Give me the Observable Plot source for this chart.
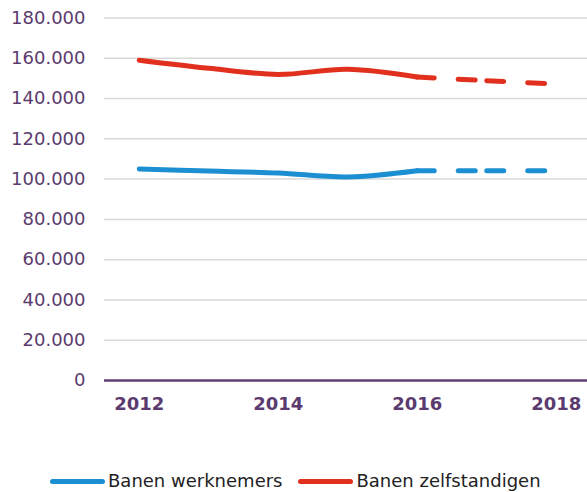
<!DOCTYPE html>
<html><head><meta charset="utf-8">
<script src="https://cdn.jsdelivr.net/npm/d3@7"></script>
<script src="https://cdn.jsdelivr.net/npm/@observablehq/plot@0.6"></script>
<style>
body{margin:0;background:#fff;font-family:"DejaVu Sans",Verdana,sans-serif;}
#chart{position:relative;width:587px;height:492px;overflow:hidden}
.legend{position:absolute;left:50px;top:471px;display:flex;align-items:center;font-size:18px;line-height:20px;color:#222;white-space:nowrap}
.item{display:flex;align-items:center;margin-right:16px}
.sw{display:inline-block;width:55px;height:5px;border-radius:3px;margin-right:3px}
</style></head><body><div id="chart"></div>
<script>
const years = [2012, 2013, 2014, 2015, 2016, 2017, 2018];
const werknemers = [105000, 104000, 103000, 101100, 104200, 104200, 104200];
const zelfstandigen = [159000, 155000, 152000, 154500, 150700, 148900, 147200];
const forecastFrom = 2016;
const seriesNames = ["Banen werknemers", "Banen zelfstandigen"];
const seriesColors = ["#1b8fd2", "#e2301f"];
const yTicks = [0, 20000, 40000, 60000, 80000, 100000, 120000, 140000, 160000, 180000];
const xTicks = [2012, 2014, 2016, 2018];

const seriesValues = [werknemers, zelfstandigen];
const rows = [];
seriesNames.forEach((name, si) => years.forEach((yr, i) => rows.push({series: name, year: yr, value: seriesValues[si][i]})));
const solid = rows.filter(d => d.year <= forecastFrom);
const links = [];
seriesNames.forEach((name, si) => {
  for (let i = 0; i < years.length - 1; i++) {
    if (years[i] >= forecastFrom) links.push({series: name, x1: years[i], y1: seriesValues[si][i], x2: years[i+1], y2: seriesValues[si][i+1]});
  }
});

const fmt = d3.formatLocale({decimal: ",", thousands: ".", grouping: [3], currency: ["€", ""]}).format(",d");
const purple = "#5b3b6f";

const chart = Plot.plot({
  width: 587, height: 440,
  marginLeft: 104, marginRight: 0, marginTop: 17.5, marginBottom: 60,
  style: {fontFamily: "DejaVu Sans, Verdana, sans-serif", fontSize: "18px", background: "white", overflow: "visible"},
  x: {domain: [2011.5, 2018.45]},
  y: {domain: [0, 180000]},
  color: {domain: seriesNames, range: seriesColors},
  marks: [
    Plot.gridY(yTicks.filter(d => d > 0), {stroke: "#d9d9d9", strokeOpacity: 1, strokeWidth: 1.5}),
    Plot.axisY(yTicks, {tickSize: 0, tickPadding: 19, tickFormat: fmt, fill: purple, label: null}),
    Plot.axisX(xTicks, {tickSize: 0, tickPadding: 17, tickFormat: d => String(d), fill: purple, fontWeight: "bold", label: null}),
    Plot.line(solid, {x: "year", y: "value", z: "series", stroke: "series", strokeWidth: 5, curve: "catmull-rom", strokeLinecap: "round", strokeLinejoin: "round"}),
    Plot.link(links, {x1: "x1", y1: "y1", x2: "x2", y2: "y2", stroke: "series", strokeWidth: 5, strokeDasharray: "17,24", strokeLinecap: "round"}),
    Plot.ruleY([0], {stroke: "#5f3f74", strokeWidth: 2.5})
  ]
});
const root = document.getElementById("chart");
root.appendChild(chart);
const legend = document.createElement("div");
legend.className = "legend";
seriesNames.forEach((name, i) => {
  const item = document.createElement("span");
  item.className = "item";
  const sw = document.createElement("span");
  sw.className = "sw";
  sw.style.background = seriesColors[i];
  const t = document.createElement("span");
  t.textContent = name;
  item.appendChild(sw); item.appendChild(t);
  legend.appendChild(item);
});
root.appendChild(legend);
</script></body></html>
